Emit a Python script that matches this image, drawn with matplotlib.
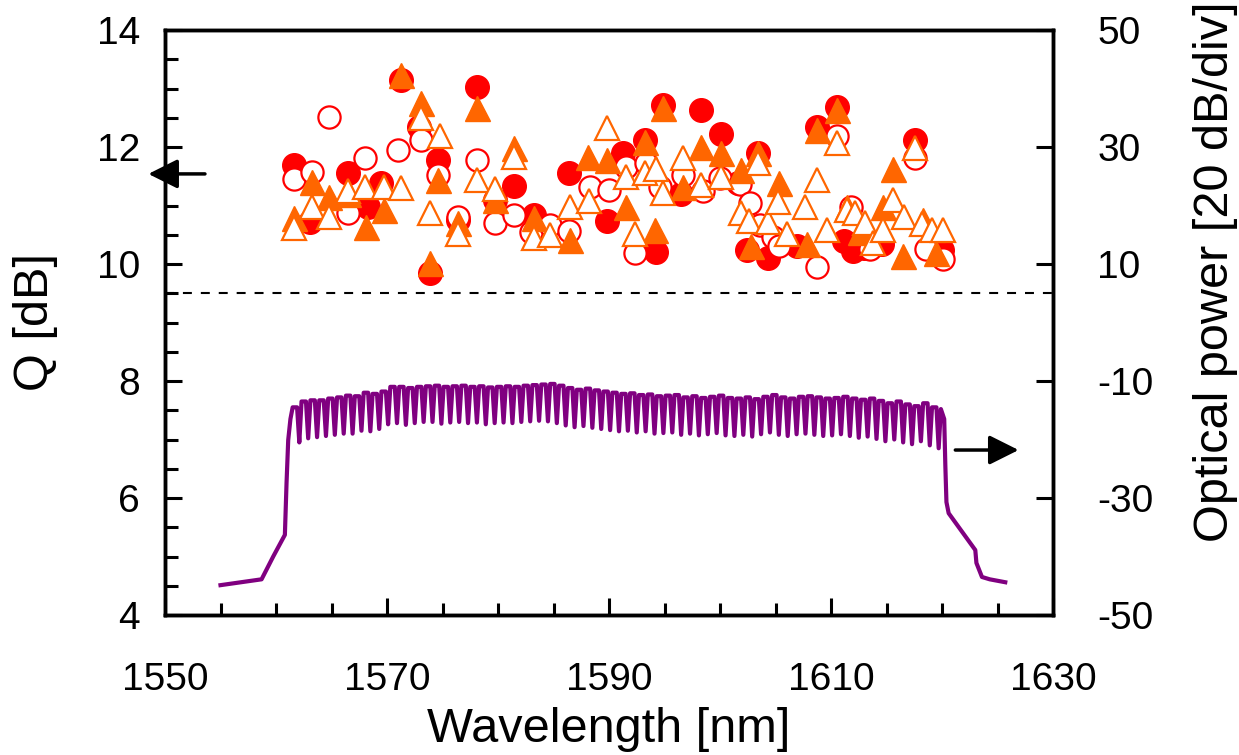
import matplotlib.pyplot as plt
from matplotlib.ticker import MultipleLocator

plt.rcParams['font.family'] = ['Liberation Sans', 'DejaVu Sans']
plt.rcParams['axes.unicode_minus'] = False

# Q values - filled red circles
fc_wl = [1561.6, 1563.1, 1566.5, 1568.3, 1569.5, 1571.3, 1572.9, 1573.9, 1574.6, 1576.4,
         1578.1, 1579.7, 1581.4, 1583.2, 1586.4, 1589.8, 1591.3, 1593.2, 1594.2, 1594.9,
         1596.5, 1598.3, 1600.1, 1601.6, 1602.4, 1603.4, 1604.3, 1606.9, 1608.7, 1610.5,
         1611.2, 1612.0, 1613.0, 1614.6, 1617.6, 1620.0]
fc_q = [11.69, 10.72, 11.55, 10.98, 11.38, 13.15, 12.35, 9.84, 11.78, 10.75,
        13.03, 11.09, 11.33, 10.84, 11.56, 10.73, 11.89, 12.12, 10.20, 12.72,
        11.20, 12.63, 12.23, 11.38, 10.24, 11.90, 10.10, 10.30, 12.35, 12.68,
        10.40, 10.22, 10.28, 10.35, 12.12, 10.24]

# Q values - open red circles
oc_wl = [1561.6, 1563.2, 1564.8, 1566.5, 1568.0, 1571.0, 1573.1, 1574.6, 1576.4, 1578.1,
         1579.7, 1581.4, 1583.0, 1584.7, 1586.4, 1588.3, 1590.0, 1591.5, 1592.3, 1593.3,
         1594.6, 1596.7, 1598.5, 1600.0, 1601.8, 1602.7, 1603.6, 1604.8, 1605.3, 1608.7,
         1610.5, 1611.8, 1613.5, 1617.6, 1618.6, 1620.1]
oc_q = [11.45, 11.58, 12.52, 10.87, 11.81, 11.95, 12.12, 11.52, 10.81, 11.78,
        10.70, 10.84, 10.55, 10.66, 10.56, 11.31, 11.27, 11.66, 10.18, 11.72,
        11.32, 11.52, 11.24, 11.47, 11.36, 11.04, 10.67, 10.47, 10.30, 9.95,
        12.18, 10.98, 10.26, 11.81, 10.25, 10.08]

# Q values - filled orange triangles
ft_wl = [1561.6, 1563.2, 1564.8, 1566.5, 1568.1, 1569.7, 1571.3, 1573.1, 1573.9, 1574.6,
         1576.4, 1578.1, 1579.7, 1581.4, 1583.2, 1586.5, 1588.1, 1589.8, 1591.5, 1593.2,
         1594.1, 1594.9, 1596.7, 1598.3, 1600.1, 1601.9, 1602.8, 1603.4, 1605.3, 1607.8,
         1608.7, 1610.5, 1611.4, 1612.6, 1614.7, 1615.6, 1616.5, 1618.3, 1619.5]
ft_q = [10.79, 11.40, 11.15, 11.20, 10.64, 10.92, 13.23, 12.75, 10.02, 11.44,
        10.70, 12.66, 11.09, 11.98, 10.78, 10.41, 11.83, 11.78, 10.98, 12.09,
        10.58, 12.66, 11.32, 12.00, 11.89, 11.61, 10.30, 11.89, 11.38, 10.35,
        12.29, 12.63, 10.98, 10.55, 10.98, 11.63, 10.13, 10.75, 10.18]

# Q values - open orange triangles
ot_wl = [1561.6, 1563.2, 1564.8, 1566.5, 1568.0, 1569.7, 1571.3, 1573.1, 1573.9, 1574.8,
         1576.4, 1578.1, 1579.7, 1581.4, 1583.2, 1584.7, 1586.5, 1588.2, 1589.8, 1591.5,
         1592.3, 1593.2, 1594.2, 1594.9, 1596.7, 1598.3, 1600.1, 1601.9, 1602.6, 1603.4,
         1604.3, 1605.2, 1606.0, 1607.7, 1608.7, 1609.6, 1610.5, 1611.4, 1612.2, 1613.1,
         1613.8, 1614.7, 1615.6, 1616.6, 1617.6, 1618.2, 1619.1, 1620.1]
ot_q = [10.62, 10.98, 10.81, 11.25, 11.32, 11.32, 11.30, 12.49, 10.87, 12.18,
        10.52, 11.44, 11.28, 11.83, 10.44, 10.50, 10.98, 11.07, 12.33, 11.48,
        10.51, 11.56, 11.63, 11.21, 11.82, 11.35, 11.49, 10.87, 10.73, 11.72,
        10.72, 11.06, 10.52, 10.98, 11.43, 10.58, 12.07, 10.92, 10.87, 10.70,
        10.36, 10.58, 11.09, 10.81, 11.98, 10.68, 10.58, 10.58]

q_limit = 9.5

x_ticks = [1550, 1570, 1590, 1610, 1630]
q_ticks = [4, 6, 8, 10, 12, 14]
p_ticks = [-50, -30, -10, 10, 30, 50]

# optical spectrum (right axis, dB)
left_edge_wl = [1555.0, 1558.7, 1559.75, 1560.8, 1560.95, 1561.1, 1561.3]
left_edge_db = [-44.9, -43.9, -40.0, -36.3, -27.4, -20.1, -16.5]
ch_wl = [1561.5, 1562.3, 1563.1, 1563.9, 1564.7, 1565.5, 1566.3, 1567.1, 1567.9, 1568.7,
         1569.5, 1570.3, 1571.1, 1571.9, 1572.7, 1573.5, 1574.3, 1575.1, 1575.9, 1576.7,
         1577.5, 1578.3, 1579.1, 1579.9, 1580.7, 1581.5, 1582.3, 1583.1, 1583.9, 1584.7,
         1585.5, 1586.3, 1587.1, 1587.9, 1588.7, 1589.5, 1590.3, 1591.1, 1591.9, 1592.7,
         1593.5, 1594.3, 1595.1, 1595.9, 1596.7, 1597.5, 1598.3, 1599.1, 1599.9, 1600.7,
         1601.5, 1602.3, 1603.1, 1603.9, 1604.7, 1605.5, 1606.3, 1607.1, 1607.9, 1608.7,
         1609.5, 1610.3, 1611.1, 1611.9, 1612.7, 1613.5, 1614.3, 1615.1, 1615.9, 1616.7,
         1617.5, 1618.3, 1619.1, 1619.9]
peak_db = [-14.5, -13.5, -13.3, -13.3, -13.0, -12.8, -12.5, -12.6, -12.0, -12.2,
           -11.8, -11.0, -11.0, -11.2, -11.0, -10.9, -10.8, -11.0, -10.9, -10.8,
           -11.0, -10.9, -11.1, -11.0, -10.9, -11.0, -10.8, -10.7, -10.6, -10.5,
           -10.8, -11.2, -11.5, -11.3, -11.6, -11.8, -12.0, -12.2, -12.1, -12.4,
           -12.3, -12.6, -12.5, -12.4, -12.8, -12.6, -12.9, -12.7, -12.5, -12.9,
           -13.0, -12.8, -13.1, -12.7, -12.4, -12.8, -13.0, -12.7, -12.6, -12.8,
           -13.0, -12.9, -12.7, -13.0, -13.2, -13.0, -13.4, -13.8, -13.5, -14.0,
           -14.3, -13.8, -14.5, -14.8]
dip_db = [-20.5, -19.8, -19.6, -19.4, -19.2, -19.0, -19.0, -18.5, -18.6, -18.2,
          -17.4, -17.2, -17.5, -17.2, -17.0, -17.0, -17.3, -17.1, -17.0, -17.2,
          -17.1, -17.4, -17.2, -17.1, -17.2, -17.0, -16.9, -16.8, -16.9, -17.2,
          -17.6, -17.9, -17.7, -18.0, -18.2, -18.4, -18.6, -18.5, -18.8, -18.6,
          -19.0, -18.9, -18.8, -19.2, -19.0, -19.3, -19.1, -18.9, -19.3, -19.4,
          -19.2, -19.5, -19.1, -18.8, -19.2, -19.4, -19.1, -19.0, -19.2, -19.4,
          -19.3, -19.1, -19.4, -19.7, -19.5, -19.9, -20.3, -20.0, -20.5, -20.8,
          -20.3, -21.0, -21.5]
right_edge_wl = [1620.2, 1620.3, 1620.4, 1620.6, 1622.2, 1623.0, 1623.1, 1623.6, 1624.3, 1625.7]
right_edge_db = [-16.5, -24.4, -30.7, -32.6, -36.8, -38.9, -41.1, -43.5, -43.9, -44.4]

# join edges and comb: flat channel top, narrow notch before the next channel
spec_wl = list(left_edge_wl)
spec_db = list(left_edge_db)
for i in range(len(ch_wl)):
    spec_wl.append(ch_wl[i])
    spec_db.append(peak_db[i])
    if i < len(dip_db):
        spec_wl.append(ch_wl[i] + 0.4)
        spec_db.append(peak_db[i])
        spec_wl.append(ch_wl[i] + 0.6)
        spec_db.append(dip_db[i])
spec_wl += right_edge_wl
spec_db += right_edge_db

red = '#ff0000'
orange = '#ff6600'

fig = plt.figure(figsize=(12.39, 7.55), dpi=100)
ax = fig.add_axes([165 / 1239, 1 - 615 / 755, 888 / 1239, 585 / 755])
ax2 = ax.twinx()

ax.axhline(q_limit, color='k', lw=1.5, ls=(0, (4.3, 4.3)), zorder=1)

ax.plot(fc_wl, fc_q, 'o', ms=17, color=red, mec=red, zorder=3)
ax.plot(oc_wl, oc_q, 'o', ms=16, mfc='white', mec=red, mew=1.6, zorder=4)
ax.plot(ft_wl, ft_q, '^', ms=18, color=orange, mec=orange, zorder=5)
ax.plot(ot_wl, ot_q, '^', ms=17, mfc='white', mec=orange, mew=1.6, zorder=6)

ax2.plot(spec_wl, spec_db, color='#800080', lw=3)

ax.set_xlim(1550, 1630)
ax.set_ylim(4, 14)
ax2.set_ylim(-50, 50)
ax.set_xticks(x_ticks)
ax.set_yticks(q_ticks)
ax2.set_yticks(p_ticks)
ax.xaxis.set_minor_locator(MultipleLocator(5))
ax.yaxis.set_minor_locator(MultipleLocator(0.5))

ax.tick_params(which='both', direction='in', top=False, right=False, width=2.2)
ax.tick_params(which='major', length=12, labelsize=28)
ax.tick_params(which='minor', length=9)
ax.tick_params(axis='x', which='major', pad=34)
ax.tick_params(axis='y', which='major', pad=18)
ax2.tick_params(which='major', direction='in', length=12, width=2.2, labelsize=28, pad=32)
ax2.tick_params(which='minor', right=False)

for a in (ax, ax2):
    for s in a.spines.values():
        s.set_linewidth(2.5)

# arrows pointing to the axis each data set belongs to
arrow = dict(arrowstyle='-|>,head_length=0.6,head_width=0.3', color='k', lw=2.5,
             mutation_scale=30, shrinkA=0, shrinkB=0)
ax.annotate('', xy=(1548.5, 11.54), xytext=(1553.6, 11.54), arrowprops=arrow,
            annotation_clip=False)
ax2.annotate('', xy=(1626.9, -21.8), xytext=(1621.2, -21.8), arrowprops=arrow,
             annotation_clip=False)

fig.text(609 / 1239, 1 - 730 / 755, 'Wavelength [nm]', fontsize=35, ha='center', va='center')
fig.text(35 / 1239, 1 - 322 / 755, 'Q [dB]', fontsize=35, ha='center', va='center', rotation=90)
fig.text(1215 / 1239, 1 - 542 / 755, 'Optical power [20 dB/div]', fontsize=35,
         ha='center', va='bottom', rotation=90)

fig.savefig('out.png', dpi=100)
